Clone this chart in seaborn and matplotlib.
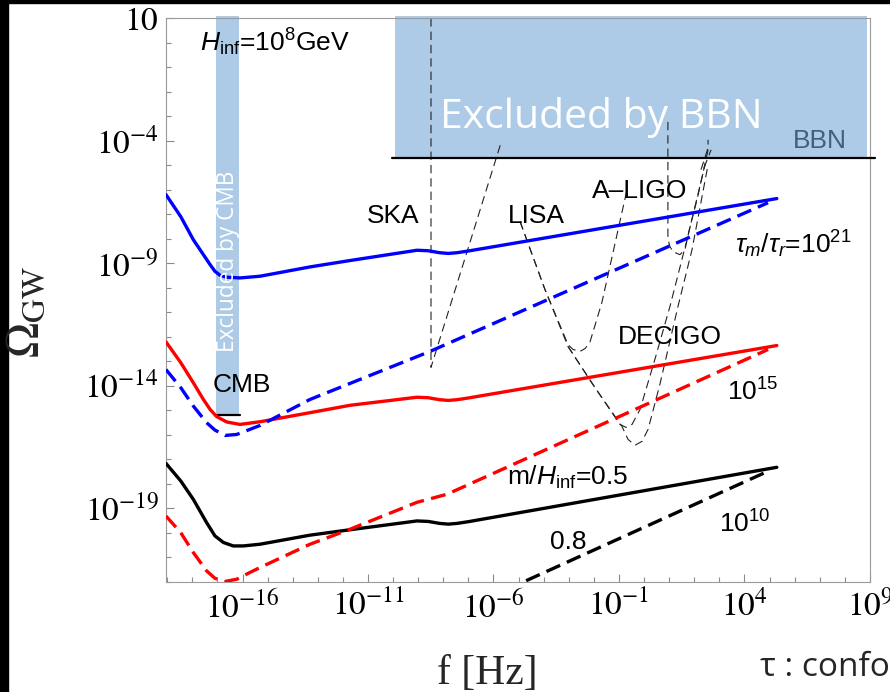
import matplotlib
matplotlib.use("Agg")
import matplotlib.pyplot as plt
import seaborn as sns
import numpy as np
from matplotlib.patches import Rectangle
from matplotlib.ticker import FixedLocator, FuncFormatter, NullFormatter

# ---------------------------------------------------------
# data: log10(f / Hz) and log10(Omega_GW)
# ---------------------------------------------------------
blue_solid_lf = [-19.05, -18.46, -17.96, -17.56, -17.29, -17.10, -16.90, -16.63, -16.10, -15.30, -13.31,
                 -11.72, -9.05, -8.60, -8.15, -7.80, -7.45, -7.00, 5.29]
blue_solid_lo = [-6.20, -7.10, -8.04, -8.65, -9.06, -9.33, -9.49, -9.57, -9.60, -9.53, -9.15,
                 -8.89, -8.47, -8.49, -8.57, -8.60, -8.57, -8.50, -6.36]
red_solid_lf = [-19.05, -18.46, -17.96, -17.56, -17.29, -17.03, -16.63, -16.10, -15.30, -13.31,
                -11.72, -9.05, -8.60, -8.15, -7.80, -7.45, -7.00, 5.29]
red_solid_lo = [-12.21, -13.06, -13.88, -14.56, -14.97, -15.26, -15.48, -15.58, -15.47, -15.10,
                -14.80, -14.47, -14.49, -14.57, -14.60, -14.57, -14.50, -12.36]
black_solid_lf = [-19.05, -18.46, -17.96, -17.43, -17.10, -16.76, -16.37, -15.97, -15.30, -13.31,
                  -11.72, -9.05, -8.60, -8.15, -7.80, -7.45, -7.00, 5.29]
black_solid_lo = [-17.17, -17.89, -18.64, -19.59, -20.13, -20.40, -20.54, -20.54, -20.47, -20.10,
                  -19.88, -19.52, -19.54, -19.62, -19.65, -19.62, -19.55, -17.33]

blue_dash_lf = [-19.05, -18.46, -17.96, -17.43, -17.10, -16.70, -16.23, -15.70, -15.30, -13.31, -8.53, 4.94]
blue_dash_lo = [-13.34, -14.08, -14.83, -15.51, -15.81, -16.03, -15.99, -15.78, -15.62, -14.56, -12.60, -6.53]
red_dash_lf = [-19.05, -18.46, -17.96, -17.43, -17.10, -16.70, -16.23, -15.70, -15.30, -13.31,
               -11.72, -9.05, -7.85, 4.94]
red_dash_lo = [-19.32, -20.00, -20.81, -21.56, -21.86, -21.99, -21.90, -21.62, -21.42, -20.47,
               -19.86, -18.76, -18.43, -12.52]
black_dash_lf = [-4.70, 4.94]
black_dash_lo = [-21.96, -17.49]

# detector sensitivity curves
ska_lf = [-8.49, -8.49, -5.70]
ska_lo = [1.0, -13.25, -4.08]
lisa_lf = [-4.94, -3.95, -3.03, -2.83, -2.55, -2.35, -2.16, -1.68, -0.68]
lisa_lo = [-7.30, -10.07, -12.32, -12.52, -12.60, -12.48, -12.23, -10.60, -6.00]
decigo_a_lf = [-4.94, -3.95, -3.03, -1.96, -0.96, -0.72, -0.48, -0.16, 0.43, 1.03, 1.71, 2.43]
decigo_a_lo = [-7.30, -10.07, -12.40, -14.07, -15.58, -15.70, -15.58, -14.97, -12.93, -10.77, -8.04, -4.98]
decigo_b_lf = [-3.03, -1.96, -0.88, -0.64, -0.36, -0.08, 0.16, 0.63, 1.35, 1.91, 2.55]
decigo_b_lo = [-12.40, -14.07, -15.66, -16.19, -16.43, -16.27, -15.78, -13.95, -10.77, -8.45, -4.98]
aligo_lf = [0.95, 0.95, 1.03, 1.15, 1.43, 1.63, 1.83, 2.11, 2.35, 2.55, 2.55]
aligo_lo = [-3.23, -8.00, -8.32, -8.53, -8.65, -8.44, -7.51, -6.41, -5.30, -4.37, -3.96]
bundle1_lf = [2.27, 2.59]
bundle1_lo = [-5.18, -4.16]
bundle2_lf = [2.39, 2.67]
bundle2_lo = [-5.10, -4.37]

# excluded regions
bbn_lf = (-9.92, 8.88)
bbn_line_lf = (-10.04, 9.20)
bbn_lo = -4.69
cmb_lf = (-17.06, -16.14)
cmb_line_lf = (-17.02, -16.10)
cmb_lo = -15.21
band_top = 1.10

x_major_exp = [-16, -11, -6, -1, 4, 9]
y_major_exp = [1, -4, -9, -14, -19]

# ---------------------------------------------------------
sns.set_style("ticks")
plt.rcParams['font.family'] = ['Liberation Sans', 'DejaVu Sans']
plt.rcParams['mathtext.fontset'] = 'stix'
plt.rcParams['mathtext.rm'] = 'Liberation Sans'
plt.rcParams['mathtext.it'] = 'Liberation Sans:italic'
plt.rcParams['mathtext.bf'] = 'Liberation Sans:bold'
plt.rcParams['mathtext.sf'] = 'Liberation Sans'

fig = plt.figure(figsize=(8.9, 6.92), dpi=100)
ax = fig.add_axes([0.1865, 0.1594, 0.7910, 0.8142])
ax.set_xscale('log')
ax.set_yscale('log')


def p(v):
    return np.power(10.0, np.asarray(v, dtype=float))


band_color = '#adcae7'
ax.add_patch(Rectangle((p(bbn_lf[0]), p(bbn_lo)), p(bbn_lf[1]) - p(bbn_lf[0]), p(band_top) - p(bbn_lo),
                       facecolor=band_color, edgecolor='none', zorder=1, clip_on=False))
ax.add_patch(Rectangle((p(cmb_lf[0]), p(cmb_lo)), p(cmb_lf[1]) - p(cmb_lf[0]), p(band_top) - p(cmb_lo),
                       facecolor=band_color, edgecolor='none', zorder=1, clip_on=False))
ax.plot(p(bbn_line_lf), [p(bbn_lo)] * 2, color='black', lw=1.6, zorder=3, clip_on=False)
ax.plot(p(cmb_line_lf), [p(cmb_lo)] * 2, color='black', lw=1.6, zorder=3)

# thin dashed sensitivity curves
thin = dict(color='#222222', lw=0.8, linestyle=(0, (7.5, 4.5)), sort=False, estimator=None, zorder=2)
for lf, lo in [(ska_lf, ska_lo), (lisa_lf, lisa_lo), (decigo_a_lf, decigo_a_lo),
               (decigo_b_lf, decigo_b_lo), (aligo_lf, aligo_lo),
               (bundle1_lf, bundle1_lo), (bundle2_lf, bundle2_lo)]:
    sns.lineplot(x=p(lf), y=p(lo), ax=ax, **thin)

# model curves
dash = (0, (4.5, 2.2))
for lf, lo, c, ls in [(blue_solid_lf, blue_solid_lo, '#0000ff', '-'),
                      (red_solid_lf, red_solid_lo, '#ff0000', '-'),
                      (black_solid_lf, black_solid_lo, 'black', '-'),
                      (blue_dash_lf, blue_dash_lo, '#0000ff', dash),
                      (red_dash_lf, red_dash_lo, '#ff0000', dash),
                      (black_dash_lf, black_dash_lo, 'black', dash)]:
    sns.lineplot(x=p(lf), y=p(lo), ax=ax, color=c, lw=2.4, linestyle=ls,
                 sort=False, estimator=None, zorder=4)

ax.set_xlim(p(-19.05), p(9.002))
ax.set_ylim(p(-22.0), p(1.0))

# ticks
ax.xaxis.set_major_locator(FixedLocator(p(x_major_exp)))
ax.xaxis.set_minor_locator(FixedLocator(p(range(-19, 10))))
ax.yaxis.set_major_locator(FixedLocator(p(y_major_exp)))
ax.yaxis.set_minor_locator(FixedLocator(p(range(-22, 2))))


def fmt(v, pos):
    e = int(round(np.log10(v)))
    return '$10$' if e == 1 else '$10^{%d}$' % e


ax.xaxis.set_major_formatter(FuncFormatter(fmt))
ax.yaxis.set_major_formatter(FuncFormatter(fmt))
ax.xaxis.set_minor_formatter(NullFormatter())
ax.yaxis.set_minor_formatter(NullFormatter())
ax.tick_params(which='both', direction='in', color='#8a8a8a', width=0.8, top=False, right=False,
               labelsize=24, labelcolor='black')
ax.tick_params(which='major', length=5.8)
ax.tick_params(which='minor', length=3.4)
ax.tick_params(axis='x', pad=6)
ax.tick_params(axis='y', pad=5)
for s in ax.spines.values():
    s.set_color('#9a9a9a')
    s.set_linewidth(0.8)
ax.set_xlabel('')
ax.set_ylabel('')

# annotations
lab = dict(fontsize=19, color='black', math_fontfamily='custom', zorder=5)
ax.text(p(-17.69), p(0.0), r'$H_{\rm inf}$=10$^8$GeV', ha='left', va='center', **lab)
ax.text(p(-10.0), p(-7.09), 'SKA', ha='center', va='center', **lab)
ax.text(p(-4.31), p(-7.09), 'LISA', ha='center', va='center', **lab)
ax.text(p(-0.16), p(-6.07), 'A\u2013LIGO', ha='center', va='center', **lab)
ax.text(p(1.03), p(-12.0), 'DECIGO', ha='center', va='center', **lab)
ax.text(p(3.64), p(-8.24), r'$\tau_m/\tau_r$=10$^{21}$', ha='left', va='center', **lab)
ax.text(p(4.33), p(-14.27), r'10$^{15}$', ha='center', va='center', **lab)
ax.text(p(-3.03), p(-17.74), r'm/$H_{\rm inf}$=0.5', ha='center', va='center', **lab)
ax.text(p(-3.03), p(-20.39), '0.8', ha='center', va='center', **lab)
ax.text(p(4.02), p(-19.63), r'10$^{10}$', ha='center', va='center', **lab)
ax.text(p(-16.02), p(-13.99), 'CMB', ha='center', va='center', **lab)
ax.text(p(7.01), p(-4.0), 'BBN', ha='center', va='center', fontsize=19, color='#41607f', zorder=5)

ax.text(p(-1.70), p(-3.06), 'Excluded by BBN', ha='center', va='center', color='white',
        fontsize=29.4, family='Open Sans', zorder=5)
ax.text(p(-16.58), p(-8.93), 'Excluded by CMB', ha='center', va='center', color='white',
        fontsize=16.3, family='Open Sans', rotation=90, zorder=5)

fig.text(27 / 890, 1 - 312 / 692, r'$\Omega_{\rm GW}$', rotation=90, ha='center', va='center',
         fontsize=34, math_fontfamily='stix')
fig.text(487 / 890, 1 - 674 / 692, 'f [Hz]', ha='center', va='center', fontsize=30,
         family='Liberation Serif')
fig.text(760 / 890, 1 - 668 / 692, '\u03c4 : conformal time', ha='left', va='center',
         fontsize=24, family='Open Sans')

# dark slide border
fig.patches.append(Rectangle((0, 0), 8 / 890, 1, transform=fig.transFigure, color='black', zorder=0))
fig.patches.append(Rectangle((0, 1 - 3 / 692), 1, 3 / 692, transform=fig.transFigure, color='black', zorder=0))

fig.savefig('out.png', dpi=100)
